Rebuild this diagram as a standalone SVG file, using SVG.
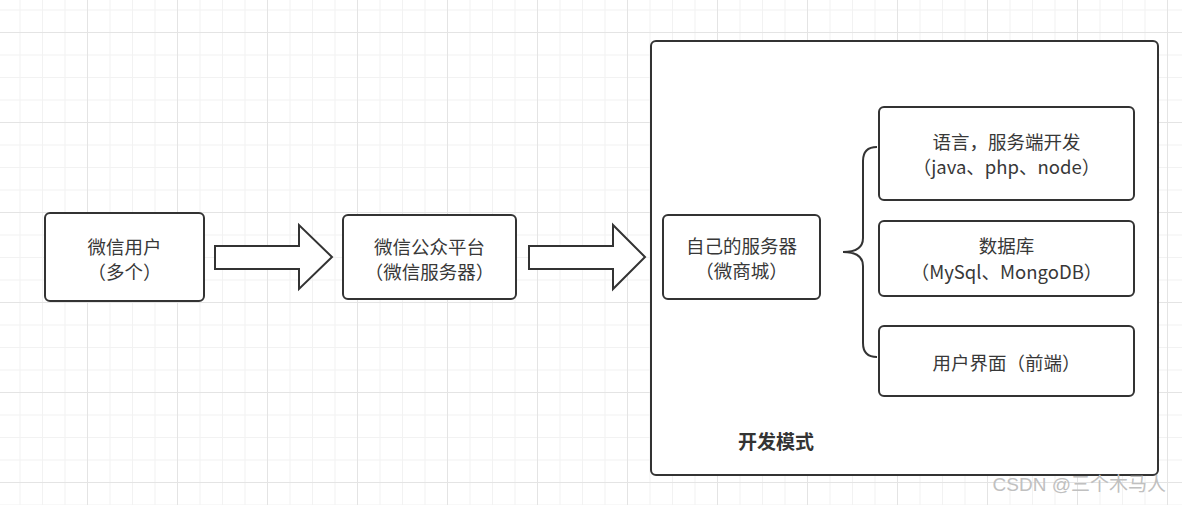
<svg xmlns="http://www.w3.org/2000/svg" width="1182" height="505" viewBox="0 0 1182 505">
<defs>
<pattern id="grid" patternUnits="userSpaceOnUse" x="87" y="32" width="90" height="90">
<rect x="0" y="0" width="90" height="90" fill="#ffffff"/>
<rect x="22.5" y="0" width="1" height="90" fill="#f2f2f2"/>
<rect x="45" y="0" width="1" height="90" fill="#f2f2f2"/>
<rect x="67.5" y="0" width="1" height="90" fill="#f2f2f2"/>
<rect x="0" y="22.5" width="90" height="1" fill="#f2f2f2"/>
<rect x="0" y="45" width="90" height="1" fill="#f2f2f2"/>
<rect x="0" y="67.5" width="90" height="1" fill="#f2f2f2"/>
<rect x="0" y="0" width="1" height="90" fill="#e4e4e4"/>
<rect x="0" y="0" width="90" height="1" fill="#e4e4e4"/>
</pattern>
</defs>
<style>
.box{fill:#ffffff;stroke:#333333;stroke-width:2}
.arrow{fill:#ffffff;stroke:#333333;stroke-width:2;stroke-linejoin:miter}
.brace{fill:none;stroke:#333333;stroke-width:2}
.t{font-family:"Noto Sans CJK SC","Microsoft YaHei",sans-serif;font-size:18.5px;fill:#383838;text-anchor:middle}
.b{font-family:"Noto Sans CJK SC",sans-serif;font-size:19px;font-weight:bold;fill:#333333}
.wm{font-family:"Liberation Sans","Noto Sans CJK SC",sans-serif;font-size:19px;fill:#c0c0c0;text-anchor:end}
</style>
<rect x="0" y="0" width="1182" height="505" fill="url(#grid)"/>

<g id="container">
<rect class="box" x="651" y="41" width="507" height="434" rx="5"/>
<text class="b" x="738" y="449">开发模式</text>
</g>

<g id="connectors">
<path class="arrow" d="M215,246 L299,246 L299,225 L332,257 L299,289 L299,269 L215,269 Z"/>
<path class="arrow" d="M529,246 L613,246 L613,225 L645,257 L613,289 L613,269 L529,269 Z"/>
<path class="brace" d="M877,147 Q863,147 863,161 L863,238 Q863,252 843,252 Q863,252 863,266 L863,343 Q863,357 877,357"/>
</g>

<g id="wechat-user">
<rect class="box" x="45" y="213" width="159" height="88" rx="5"/>
<text class="t" x="124.5" y="254">微信用户</text>
<text class="t" x="124.5" y="279">（多个）</text>
</g>

<g id="wechat-platform">
<rect class="box" x="343" y="215" width="173" height="84" rx="5"/>
<text class="t" x="429.5" y="254">微信公众平台</text>
<text class="t" x="429.5" y="279">（微信服务器）</text>
</g>

<g id="own-server">
<rect class="box" x="663" y="215" width="157" height="84" rx="5"/>
<text class="t" x="741.5" y="253">自己的服务器</text>
<text class="t" x="741.5" y="278">（微商城）</text>
</g>

<g id="language">
<rect class="box" x="879" y="107" width="255" height="93" rx="5"/>
<text class="t" x="1006.5" y="149">语言，服务端开发</text>
<text class="t" x="1006.5" y="174">（java、php、node）</text>
</g>

<g id="database">
<rect class="box" x="879" y="221" width="255" height="75" rx="5"/>
<text class="t" x="1006.5" y="253">数据库</text>
<text class="t" x="1006.5" y="279">（MySql、MongoDB）</text>
</g>

<g id="ui">
<rect class="box" x="879" y="326" width="255" height="70" rx="5"/>
<text class="t" x="1006.5" y="370">用户界面（前端）</text>
</g>

<text class="wm" x="1166" y="491">CSDN @三个木马人</text>
</svg>
